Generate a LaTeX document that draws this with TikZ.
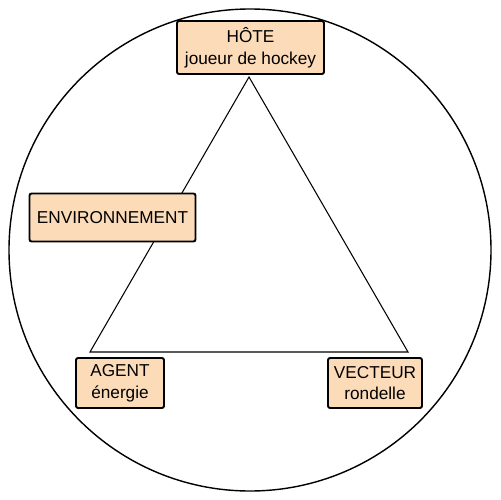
\documentclass[tikz,border=0pt]{standalone}
\usepackage{fontspec}
\setmainfont{Liberation Sans}
\begin{document}
\begin{tikzpicture}[x=0.02cm,y=-0.02cm,
  lbl/.style={draw=black,line width=1.1pt,fill=boxfill,rounded corners=1.2pt,
    align=center,font=\fontsize{9.8pt}{12.4pt}\selectfont,inner sep=0pt},
  edge/.style={draw=black,line width=0.6pt}]
\definecolor{boxfill}{HTML}{FCDBB9}
\useasboundingbox (0,0) rectangle (500,500);
\node[draw=black,line width=0.8pt,circle,minimum size=482*0.02cm,inner sep=0pt] (ring) at (250,250) {};
\coordinate (apex) at (249,77);
\coordinate (bl) at (90,352);
\coordinate (br) at (408,352);
\draw[edge] (apex) -- (bl) -- (br) -- cycle;
\node[lbl,minimum width=147*0.02cm,minimum height=53*0.02cm] (hote) at (250.5,47.5) {HÔTE\\joueur de hockey};
\node[lbl,minimum width=166*0.02cm,minimum height=48*0.02cm] (env) at (112.5,217.5) {ENVIRONNEMENT};
\node[lbl,minimum width=88*0.02cm,minimum height=50*0.02cm] (agent) at (120,383) {AGENT\\énergie};
\node[lbl,minimum width=94*0.02cm,minimum height=50*0.02cm] (vect) at (375,383) {VECTEUR\\rondelle};
\end{tikzpicture}
\end{document}
